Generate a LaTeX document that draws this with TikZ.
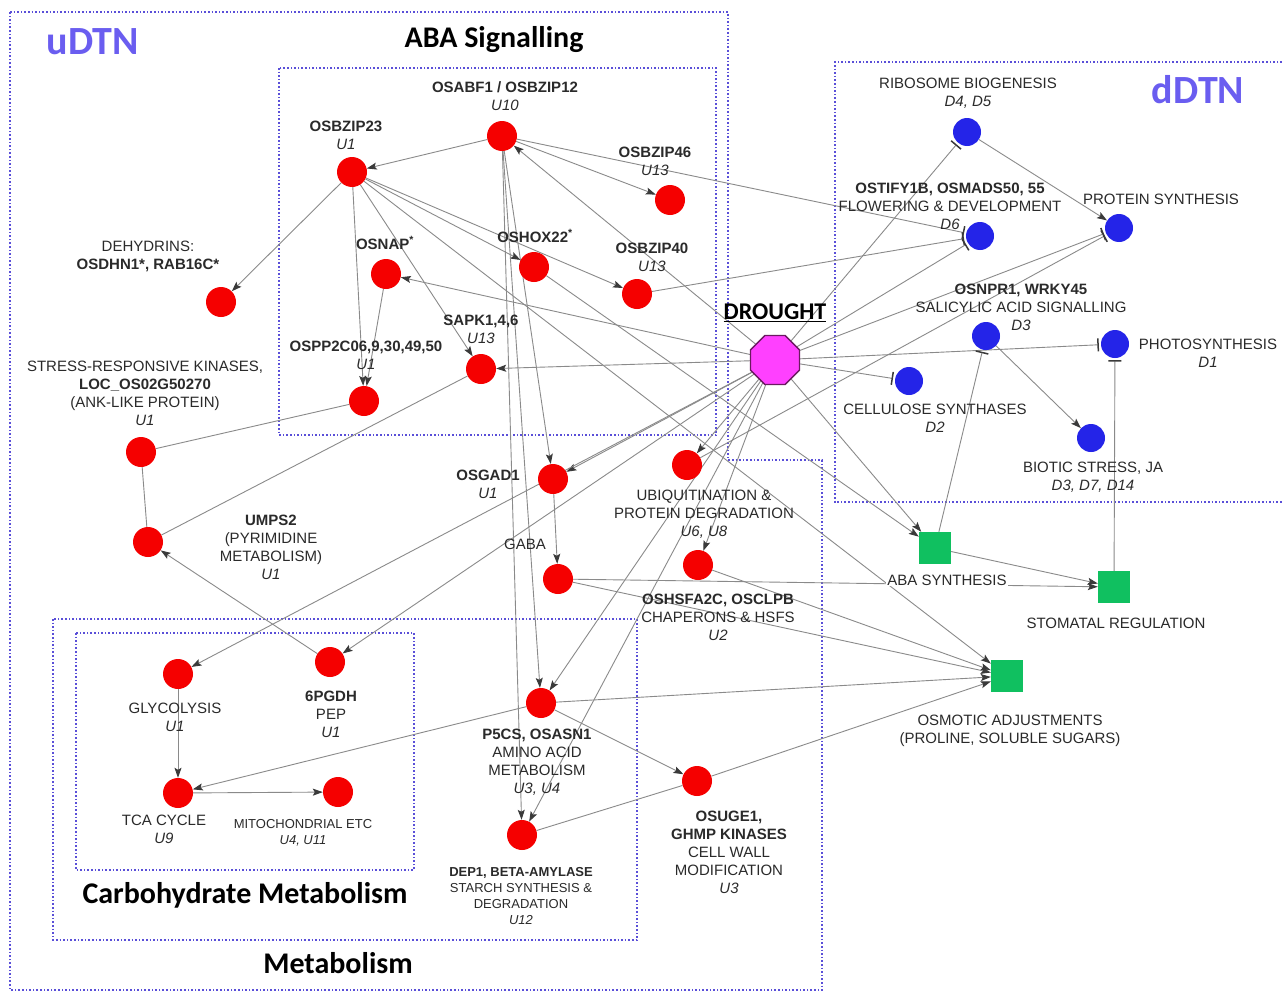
\documentclass[tikz,border=0pt]{standalone}
\usepackage{fontspec}
\setmainfont{Liberation Sans}
\newfontfamily\hdr{Carlito}
\usetikzlibrary{arrows.meta,shapes.geometric}
\pgfdeclarelayer{bg}
\pgfsetlayers{bg,main}
\definecolor{redc}{HTML}{F50000}
\definecolor{bluec}{HTML}{2424E8}
\definecolor{greenc}{HTML}{10C060}
\definecolor{magc}{HTML}{FF40FF}
\definecolor{magd}{HTML}{6A1A60}
\definecolor{edgec}{HTML}{8A8A8A}
\definecolor{tipc}{HTML}{3A3A3A}
\definecolor{boxc}{HTML}{5A4FD8}
\definecolor{titc}{HTML}{6A5DF0}
\definecolor{labc}{HTML}{2A2A2A}
\tikzset{
 rn/.style={circle,fill=redc,minimum size=30pt,inner sep=0},
 bn/.style={circle,fill=bluec,minimum size=28pt,inner sep=0},
 gn/.style={rectangle,fill=greenc,minimum size=32pt,inner sep=0},
 lab/.style={font=\fontsize{15}{18}\selectfont,text=labc,align=center,inner sep=0},
 slab/.style={font=\fontsize{13}{16}\selectfont,text=labc,align=center,inner sep=0},
 hd/.style={font=\hdr\bfseries\fontsize{30}{36}\selectfont,inner sep=0},
 tt/.style={font=\hdr\bfseries\fontsize{40}{44}\selectfont,text=titc,inner sep=0},
 ar/.style={draw=edgec,line width=0.9pt,-{Stealth[length=10pt,width=7pt,inset=2pt,color=tipc]}},
 br/.style={draw=edgec,line width=0.9pt,-{Bar[width=13pt,line width=1.5pt,color=tipc]},shorten >=2pt},
 ln/.style={draw=edgec,line width=0.9pt},
 dbox/.style={draw=boxc,dotted,line width=1.6pt},
}
\begin{document}
\begin{tikzpicture}[x=1pt,y=-1pt]
\useasboundingbox (0,0) rectangle (1282,993);
% boxes
\begin{pgfonlayer}{bg}
\fill[white] (0,0) rectangle (1282,993);
\draw[dbox] (10,12) -- (728,12) -- (728,460) -- (822,460) -- (822,990) -- (10,990) -- cycle;
\draw[dbox] (279,68) rectangle (716,435);
\draw[dbox] (1282,62) -- (835,62) -- (835,502) -- (1282,502);
\draw[dbox] (53,619) rectangle (637,940);
\draw[dbox] (76,633) rectangle (414,870);
\end{pgfonlayer}
% titles
\node[tt] (tu) at (93,42) {uDTN};
\node[tt] (td) at (1198,90) {dDTN};
\node[hd] (tab) at (494,40) {ABA Signalling};
\node[hd] (tcm) at (245,895) {Carbohydrate Metabolism};
\node[hd] (tme) at (338,963) {Metabolism};
% red nodes
\node[rn] (abf1) at (502,136) {};
\node[rn] (bz23) at (352,172) {};
\node[rn] (bz46) at (670,200) {};
\node[rn] (nap) at (386,274) {};
\node[rn] (hox) at (534,267) {};
\node[rn] (bz40) at (637,294) {};
\node[rn] (sapk) at (481,369) {};
\node[rn] (pp2c) at (364,401) {};
\node[rn] (dhn) at (221,302) {};
\node[rn] (kin) at (141,452) {};
\node[rn] (umps) at (148,542) {};
\node[rn] (gad) at (553,479) {};
\node[rn] (gaba) at (558,579) {};
\node[rn] (ubq) at (687,465) {};
\node[rn] (chap) at (698,565) {};
\node[rn] (p5cs) at (541,703) {};
\node[rn] (dep) at (522,835) {};
\node[rn] (uge) at (697,781) {};
\node[rn] (gly) at (178,674) {};
\node[rn] (pgdh) at (330,662) {};
\node[rn] (tca) at (178,793) {};
\node[rn] (mito) at (338,792) {};
% blue nodes
\node[bn] (ribo) at (967,132) {};
\node[bn] (flow) at (980,236) {};
\node[bn] (prot) at (1119,228) {};
\node[bn] (sa) at (986,336) {};
\node[bn] (phot) at (1115,344) {};
\node[bn] (cell) at (909,381) {};
\node[bn] (bio) at (1091,438) {};
% green nodes
\node[gn] (abas) at (935,548) {};
\node[gn] (stom) at (1114,587) {};
\node[gn] (osm) at (1007,676) {};
% drought
\node[regular polygon,regular polygon sides=8,minimum size=53pt,inner sep=0,fill=magc,draw=magd,line width=1.3pt] (dr) at (775,360) {};
\node[font=\hdr\bfseries\fontsize{24}{28}\selectfont,inner sep=0] (drl) at (775,313) {\underline{DROUGHT}};
% labels
\node[lab] (l1) at (505,96) {\textbf{OSABF1 / OSBZIP12}\\\textit{U10}};
\node[lab] (l2) at (346,135) {\textbf{OSBZIP23}\\\textit{U1}};
\node[lab] (l3) at (655,161.5) {\textbf{OSBZIP46}\\\textit{U13}};
\node[lab] (l4) at (385,243) {\textbf{OSNAP\textsuperscript{*}}};
\node[lab] (l5) at (535,236) {\textbf{OSHOX22\textsuperscript{*}}};
\node[lab] (l6) at (652,257.5) {\textbf{OSBZIP40}\\\textit{U13}};
\node[lab] (l7) at (481,329) {\textbf{SAPK1,4,6}\\\textit{U13}};
\node[lab] (l8) at (366,355.5) {\textbf{OSPP2C06,9,30,49,50}\\\textit{U1}};
\node[lab] (l9) at (148,256.5) {DEHYDRINS:\\\textbf{OSDHN1*, RAB16C*}};
\node[lab] (l10) at (145,393.5) {STRESS-RESPONSIVE KINASES,\\\textbf{LOC\_OS02G50270}\\(ANK-LIKE PROTEIN)\\\textit{U1}};
\node[lab] (l11) at (271,547) {\textbf{UMPS2}\\(PYRIMIDINE\\METABOLISM)\\\textit{U1}};
\node[lab] (l12) at (488,484.5) {\textbf{OSGAD1}\\\textit{U1}};
\node[lab] (l13) at (525,544) {GABA};
\node[lab] (l14) at (704,514) {UBIQUITINATION \&\\PROTEIN DEGRADATION\\\textit{U6, U8}};
\node[lab] (l15) at (718,617) {\textbf{OSHSFA2C, OSCLPB}\\CHAPERONS \& HSFS\\\textit{U2}};
\node[lab] (l16) at (537,762) {\textbf{P5CS, OSASN1}\\AMINO ACID\\METABOLISM\\\textit{U3, U4}};
\node[slab] (l17) at (521,896) {\textbf{DEP1, BETA-AMYLASE}\\STARCH SYNTHESIS \&\\DEGRADATION\\\textit{U12}};
\node[lab] (l18) at (729,852.5) {\textbf{OSUGE1,}\\\textbf{GHMP KINASES}\\CELL WALL\\MODIFICATION\\\textit{U3}};
\node[lab] (l19) at (175,717) {GLYCOLYSIS\\\textit{U1}};
\node[lab] (l20) at (331,714.5) {\textbf{6PGDH}\\PEP\\\textit{U1}};
\node[lab] (l21) at (164,829) {TCA CYCLE\\\textit{U9}};
\node[slab] (l22) at (303,833) {MITOCHONDRIAL ETC\\\textit{U4, U11}};
\node[lab] (l23) at (968,93) {RIBOSOME BIOGENESIS\\\textit{D4, D5}};
\node[lab] (l24) at (950,206) {\textbf{OSTIFY1B, OSMADS50, 55}\\FLOWERING \& DEVELOPMENT\\\textit{D6}};
\node[lab] (l25) at (1161,199) {PROTEIN SYNTHESIS};
\node[lab] (l26) at (1021,307.5) {\textbf{OSNPR1, WRKY45}\\SALICYLIC ACID SIGNALLING\\\textit{D3}};
\node[lab] (l27) at (1208,353) {PHOTOSYNTHESIS\\\textit{D1}};
\node[lab] (l28) at (935,418) {CELLULOSE SYNTHASES\\\textit{D2}};
\node[lab] (l29) at (1093,477) {BIOTIC STRESS, JA\\\textit{D3, D7, D14}};
\node[lab,fill=white,inner sep=1pt] (l30) at (947,580) {ABA SYNTHESIS};
\node[lab] (l31) at (1116,623) {STOMATAL REGULATION};
\node[lab] (l32) at (1010,730.5) {OSMOTIC ADJUSTMENTS\\(PROLINE, SOLUBLE SUGARS)};
% edges
\begin{pgfonlayer}{bg}
\draw[ar] (abf1) -- (bz23);
\draw[ar] (abf1) -- (bz46);
\draw[br] (abf1) -- (flow);
\draw[ar] (dr) -- (abf1);
\draw[ar] (bz23) -- (hox);
\draw[ar] (bz23) -- (bz40);
\draw[ar] (bz23) -- (sapk);
\draw[ar] (bz23) -- (pp2c);
\draw[ar] (nap) -- (pp2c);
\draw[ar] (bz23) -- (dhn);
\draw[ar] (bz23) -- (osm);
\draw[br] (bz40) -- (flow);
\draw[ar] (dr) -- (nap);
\draw[ar] (dr) -- (sapk);
\draw[ar] (abf1) -- (gad);
\draw[ar] (abf1) -- (p5cs);
\draw[ar] (abf1) -- (dep);
\draw[ar] (hox) -- (abas);
\draw[ar] (gad) -- (gaba);
\draw[ar] (dr) -- (gad);
\draw[ar] (dr) -- (gly);
\draw[ar] (dr) -- (pgdh);
\draw[ln] (sapk) -- (umps);
\draw[ar] (pgdh) -- (umps);
\draw[ln] (kin) -- (pp2c);
\draw[ln] (kin) -- (umps);
\draw[ar] (gly) -- (tca);
\draw[ar] (tca) -- (mito);
\draw[ar] (p5cs) -- (tca);
\draw[ar] (p5cs) -- (osm);
\draw[ar] (p5cs) -- (uge);
\draw[ln] (dep) -- (uge);
\draw[ar] (uge) -- (osm);
\draw[ar] (gaba) -- (stom);
\draw[ar] (gaba) -- (osm);
\draw[ar] (chap) -- (osm);
\draw[ar] (dr) -- (chap);
\draw[ar] (dr) -- (ubq);
\draw[ar] (dr) -- (p5cs);
\draw[ar] (dr) -- (dep);
\draw[br] (ubq) -- (prot);
\draw[br] (dr) -- (ribo);
\draw[br] (dr) -- (flow);
\draw[br] (dr) -- (prot);
\draw[br] (dr) -- (phot);
\draw[br] (dr) -- (cell);
\draw[ar] (dr) -- (abas);
\draw[ar] (ribo) -- (prot);
\draw[ar] (sa) -- (bio);
\draw[br] (abas) -- (sa);
\draw[br] (stom) -- (phot);
\draw[ar] (abas) -- (stom);
\end{pgfonlayer}
\end{tikzpicture}
\end{document}
